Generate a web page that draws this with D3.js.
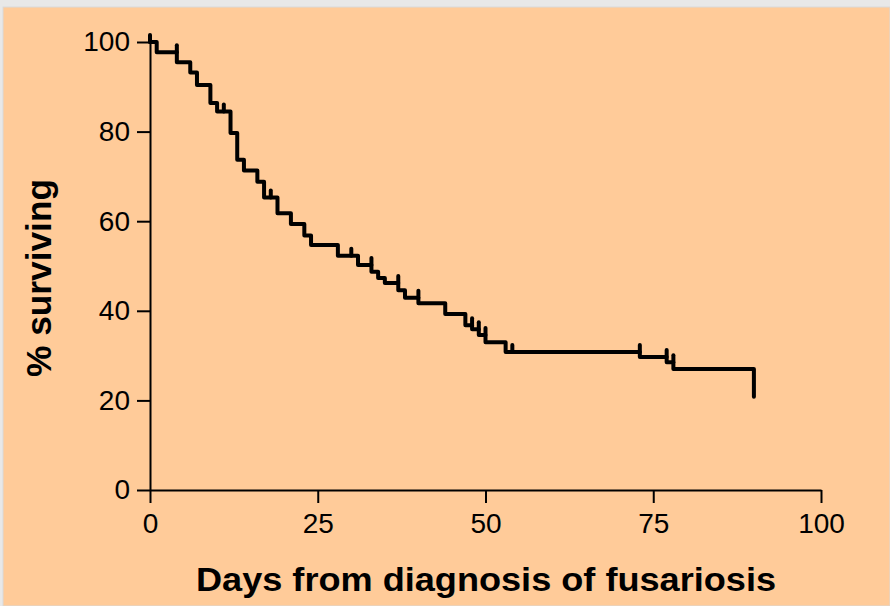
<!DOCTYPE html>
<html>
<head>
<meta charset="utf-8">
<script src="https://cdn.jsdelivr.net/npm/d3@7"></script>
<style>
  html, body { margin: 0; padding: 0; background: #e8e8e8; }
  svg { display: block; }
</style>
</head>
<body>
<div id="chart"></div>
<script>
// Kaplan-Meier steps: day of each drop and % surviving after it
const days = [0, 1, 4, 6, 7, 9, 10, 12, 13, 14, 16, 17, 19, 21, 23, 24, 28, 31, 33, 34, 35, 37, 38, 40, 44, 47, 48, 49, 50, 53, 73, 77, 78, 90];
const surviving = [100, 97.7, 95.5, 93.2, 90.4, 86.4, 84.5, 79.7, 73.7, 71.3, 68.8, 65.3, 61.8, 59.4, 56.8, 54.7, 52.3, 50.2, 48.7, 47.3, 46.2, 44.6, 42.9, 41.7, 39.3, 36.8, 35.9, 34.6, 33.0, 30.8, 29.7, 28.5, 27.0, 20.8];
// censored observations (small vertical ticks)
const censoredDays = [0, 4, 11, 18, 30, 33, 37, 40, 48, 49, 50, 54, 73, 77, 78];

const xTicks = [0, 25, 50, 75, 100];
const yTicks = [0, 20, 40, 60, 80, 100];

let width = 890;
let height = 606;

let svg = d3.select("#chart")
    .append("svg")
    .attr("width", width)
    .attr("height", height);

// peach panel
svg.append("rect")
    .attr("x", 3)
    .attr("y", 7)
    .attr("width", width - 3)
    .attr("height", height - 7)
    .attr("fill", "#ffcb99")
    .attr("stroke", "#d9d9d9")
    .attr("stroke-width", 1);

//scale functions
let xScale = d3.scaleLinear()
    .domain([0, 100])
    .range([150, 821]);

let yScale = d3.scaleLinear()
    .domain([0, 100])
    .range([490, 42]);

let xAxis = d3.axisBottom(xScale)
    .tickValues(xTicks)
    .tickSize(13)
    .tickPadding(10)
    .tickSizeOuter(0);

let yAxis = d3.axisLeft(yScale)
    .tickValues(yTicks)
    .tickSize(13)
    .tickPadding(7)
    .tickSizeOuter(0);

//x axis
let gx = svg.append("g")
    .attr("transform", "translate(0," + yScale(0) + ")")
    .call(xAxis);

//y axis
let gy = svg.append("g")
    .attr("transform", "translate(" + xScale(0) + ",0)")
    .call(yAxis);

[gx, gy].forEach(g => {
    g.select(".domain").attr("stroke", "#000").attr("stroke-width", 2);
    g.selectAll(".tick line").attr("stroke", "#000").attr("stroke-width", 2);
    g.selectAll(".tick text")
        .attr("fill", "#000")
        .attr("font-family", "Liberation Sans, Arial, sans-serif")
        .attr("font-size", "28px");
});

// survival curve
let points = days.map((d, i) => [d, surviving[i]]);
let line = d3.line()
    .x(d => xScale(d[0]))
    .y(d => yScale(d[1]))
    .curve(d3.curveStepAfter);

svg.append("path")
    .datum(points)
    .attr("d", line)
    .attr("fill", "none")
    .attr("stroke", "#000")
    .attr("stroke-width", 4)
    .attr("stroke-linejoin", "round")
    .attr("stroke-linecap", "round");

// censor ticks sit on the level just before any drop on that day
function levelBefore(t) {
    let i = d3.bisectLeft(days, t) - 1;
    return surviving[Math.max(i, 0)];
}

svg.append("g")
    .selectAll("line")
    .data(censoredDays)
    .join("line")
    .attr("x1", d => xScale(d))
    .attr("x2", d => xScale(d))
    .attr("y1", d => yScale(levelBefore(d)))
    .attr("y2", d => yScale(levelBefore(d)) - 7)
    .attr("stroke", "#000")
    .attr("stroke-width", 4)
    .attr("stroke-linecap", "round");

// Y Label
svg.append("text")
    .attr("transform", "translate(51,278) rotate(-90)")
    .attr("font-family", "Liberation Sans, Arial, sans-serif")
    .attr("font-weight", "bold")
    .attr("font-size", "35px")
    .attr("textLength", 198)
    .attr("lengthAdjust", "spacingAndGlyphs")
    .style("text-anchor", "middle")
    .text("% surviving");

// X Label
svg.append("text")
    .attr("x", 486)
    .attr("y", 591)
    .attr("font-family", "Liberation Sans, Arial, sans-serif")
    .attr("font-weight", "bold")
    .attr("font-size", "33px")
    .attr("textLength", 580)
    .attr("lengthAdjust", "spacingAndGlyphs")
    .style("text-anchor", "middle")
    .text("Days from diagnosis of fusariosis");
</script>
</body>
</html>
